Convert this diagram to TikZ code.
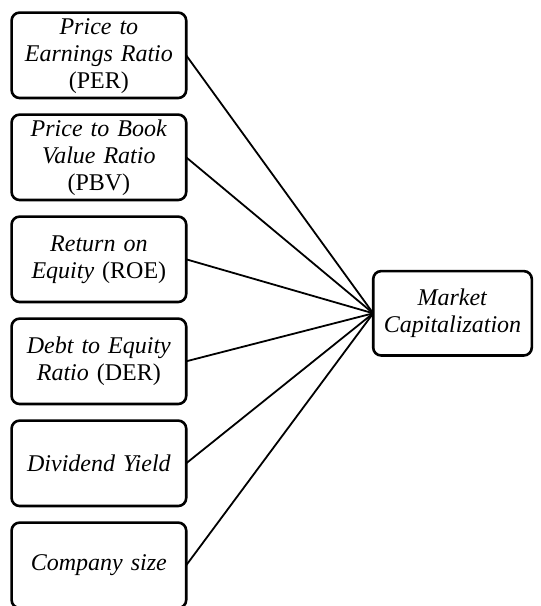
\documentclass[tikz,border=0pt]{standalone}
\usepackage{fontspec}
\setmainfont{Liberation Serif}
\usetikzlibrary{positioning}
\tikzset{
    factor/.style={
        draw=black, fill=white, rounded corners=4pt,
        minimum height=42.7pt, text width=83.3pt, inner xsep=2pt, inner ysep=0pt,
        outer sep=0pt, font=\fontsize{12}{13.5}\selectfont, align=center,
        line width=1.3pt,
    },
    % three-line boxes sit a little low, as in the source
    tall/.style={
        text height=11pt, text depth=31.7pt,
    },
    target/.style={
        factor, text width=75.3pt, minimum height=42.2pt,
    },
    link/.style={
        line width=0.9pt, color=black,
    },
}

\begin{document}
\begin{tikzpicture}[node distance=8.3pt and 93.5pt]
\useasboundingbox (0,0) rectangle (270.5pt,-303pt);

% ── Determinants (left column) ───────────────────────────────
\node[factor, tall, anchor=north west] (per) at (5.8pt,-6.3pt) {\textit{Price to}\\\textit{Earnings Ratio}\\(PER)};
\node[factor, tall, below=of per] (pbv) {\textit{Price to Book}\\\textit{Value Ratio}\\(PBV)};
\node[factor, below=of pbv] (roe) {\textit{Return on}\\\textit{Equity} (ROE)};
\node[factor, below=of roe] (der) {\textit{Debt to Equity}\\\textit{Ratio} (DER)};
\node[factor, below=of der] (dy) {\textit{Dividend Yield}};
\node[factor, below=of dy] (size) {\textit{Company size}};

% ── Outcome (right) ──────────────────────────────────────────
\node[target, right=of roe, yshift=-27pt] (mcap) {\textit{Market}\\\textit{Capitalization}};

% ── Connectors ───────────────────────────────────────────────
\foreach \src in {per, pbv, roe, der, dy, size}
    \draw[link] (\src.east) -- (mcap.west);

\end{tikzpicture}
\end{document}
